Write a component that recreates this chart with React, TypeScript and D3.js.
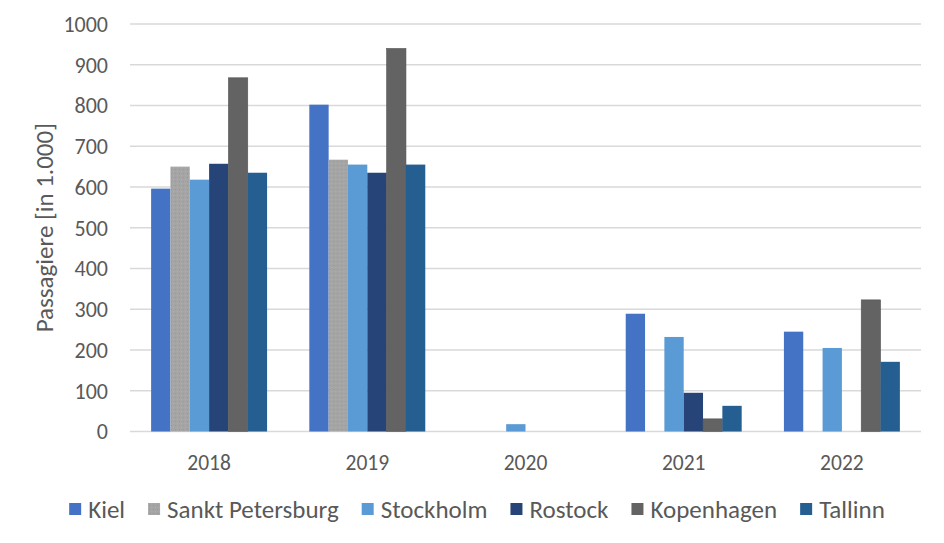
import React, { useEffect, useRef } from "react";
import * as d3 from "d3";

const years = ["2018", "2019", "2020", "2021", "2022"];
const seriesNames = ["Kiel", "Sankt Petersburg", "Stockholm", "Rostock", "Kopenhagen", "Tallinn"];
const kiel = [596, 802, 0, 289, 245];
const sanktPetersburg = [650, 667, 0, 0, 0];
const stockholm = [618, 655, 18, 232, 205];
const rostock = [657, 635, 0, 95, 0];
const kopenhagen = [868, 940, 0, 31, 323];
const tallinn = [635, 655, 0, 63, 171];
const yTicks = [0, 100, 200, 300, 400, 500, 600, 700, 800, 900, 1000];
const colors = ["#4472C4", "url(#spPattern)", "#5B9BD5", "#264478", "#636363", "#255E91"];

const seriesValues = [kiel, sanktPetersburg, stockholm, rostock, kopenhagen, tallinn];

const W = 944;
const H = 543;
const FONT = "Carlito, Calibri, Lato, 'Noto Sans', sans-serif";

export default function App() {
  const ref = useRef<SVGSVGElement>(null);

  useEffect(() => {
    const svg = d3.select(ref.current);
    svg.selectAll("*").remove();

    const defs = svg.append("defs");
    const pat = defs
      .append("pattern")
      .attr("id", "spPattern")
      .attr("patternUnits", "userSpaceOnUse")
      .attr("width", 4)
      .attr("height", 4);
    pat.append("rect").attr("width", 4).attr("height", 4).attr("fill", "#A5A5A5");
    pat.append("rect").attr("x", 1).attr("y", 1).attr("width", 1).attr("height", 1).attr("fill", "#979797");
    pat.append("rect").attr("x", 3).attr("y", 3).attr("width", 1).attr("height", 1).attr("fill", "#AEAEAE");

    const x0 = d3.scaleBand<string>().domain(years).range([130, 921]).paddingInner(0).paddingOuter(0);
    const groupW = x0.bandwidth() * 0.733;
    const x1 = d3
      .scaleBand<string>()
      .domain(seriesNames)
      .range([(x0.bandwidth() - groupW) / 2, (x0.bandwidth() + groupW) / 2]);
    const y = d3.scaleLinear().domain([0, 1000]).range([431.5, 24]);

    // gridlines
    svg
      .append("g")
      .selectAll("line")
      .data(yTicks)
      .join("line")
      .attr("x1", 130)
      .attr("x2", 921)
      .attr("y1", (d) => y(d))
      .attr("y2", (d) => y(d))
      .attr("stroke", "#D9D9D9")
      .attr("stroke-width", 1.5);

    // y tick labels
    svg
      .append("g")
      .selectAll("text")
      .data(yTicks)
      .join("text")
      .attr("x", 108)
      .attr("y", (d) => y(d))
      .attr("dy", "0.36em")
      .attr("text-anchor", "end")
      .attr("font-family", FONT)
      .attr("font-size", 22)
      .attr("fill", "#595959")
      .text((d) => String(d));

    // y title
    svg
      .append("text")
      .attr("transform", `translate(44,${(y(0) + y(1000)) / 2}) rotate(-90)`)
      .attr("text-anchor", "middle")
      .attr("dy", "0.36em")
      .attr("font-family", FONT)
      .attr("font-size", 25)
      .attr("fill", "#595959")
      .text("Passagiere [in 1.000]");

    // bars
    const groups = svg
      .append("g")
      .selectAll("g")
      .data(years)
      .join("g")
      .attr("transform", (d) => `translate(${x0(d)},0)`);

    groups
      .selectAll("rect")
      .data((d, i) => seriesNames.map((s, si) => ({ s, si, v: seriesValues[si][i] })))
      .join("rect")
      .filter((d) => d.v > 0)
      .attr("x", (d) => x1(d.s)!)
      .attr("width", x1.bandwidth())
      .attr("y", (d) => y(d.v))
      .attr("height", (d) => y(0) - y(d.v))
      .attr("fill", (d) => colors[d.si])
      .attr("stroke", (d) => (d.si === 4 ? "#555555" : "none"))
      .attr("stroke-width", (d) => (d.si === 4 ? 0.6 : 0));

    // x labels
    svg
      .append("g")
      .selectAll("text")
      .data(years)
      .join("text")
      .attr("x", (d) => x0(d)! + x0.bandwidth() / 2)
      .attr("y", 470)
      .attr("text-anchor", "middle")
      .attr("font-family", FONT)
      .attr("font-size", 21.5)
      .attr("fill", "#595959")
      .text((d) => d);

    // legend
    const leg = svg.append("g");
    const items = leg.selectAll("g").data(seriesNames).join("g");
    items
      .append("rect")
      .attr("width", 12)
      .attr("height", 12)
      .attr("y", 503)
      .attr("fill", (d, i) => colors[i]);
    const texts = items
      .append("text")
      .attr("x", 19)
      .attr("y", 509)
      .attr("dy", "0.36em")
      .attr("font-family", FONT)
      .attr("font-size", 25)
      .attr("fill", "#595959")
      .text((d) => d);
    const widths: number[] = [];
    texts.each(function () {
      widths.push((this as SVGTextElement).getComputedTextLength());
    });
    const gap = 23;
    const itemW = widths.map((w) => 19 + w);
    const total = d3.sum(itemW) + gap * (itemW.length - 1);
    let cx = 477 - total / 2;
    items.attr("transform", (d, i) => {
      const t = `translate(${cx},0)`;
      cx += itemW[i] + gap;
      return t;
    });
  }, []);

  return (
    <div style={{ position: "absolute", left: 0, top: 0 }}>
      <svg ref={ref} width={W} height={H} style={{ display: "block", background: "#fff" }} />
    </div>
  );
}
